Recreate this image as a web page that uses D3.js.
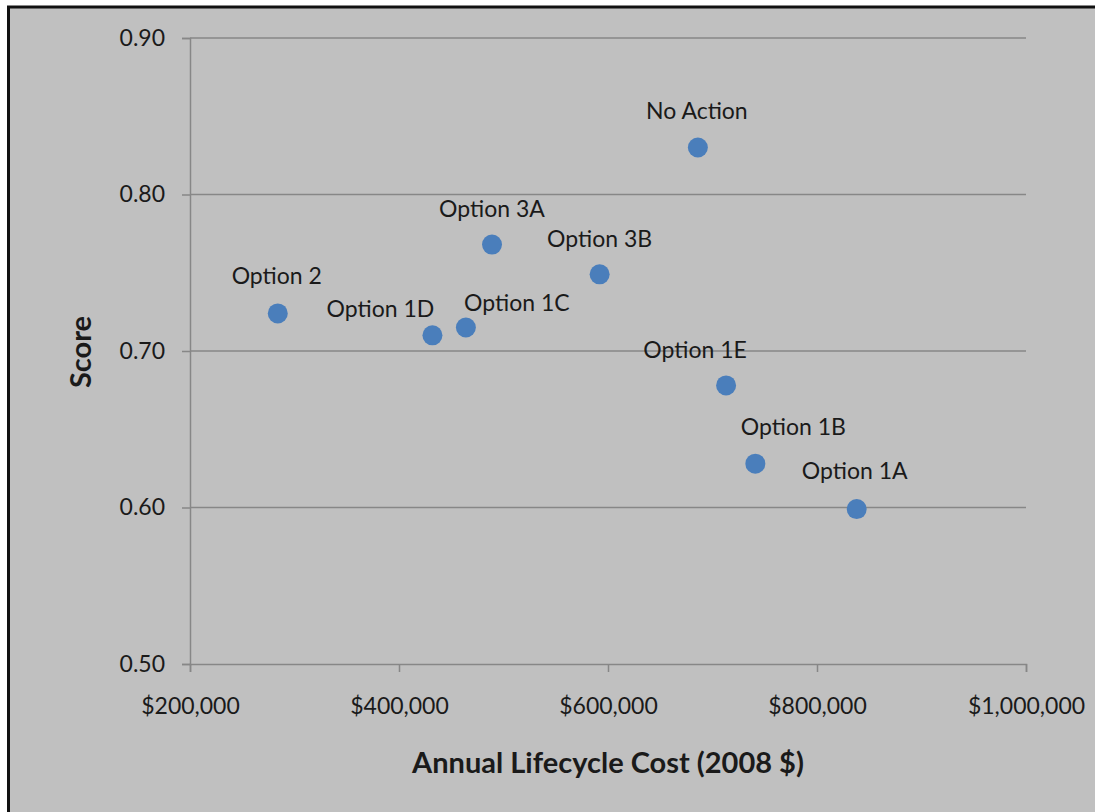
<!DOCTYPE html>
<html>
<head>
<meta charset="utf-8">
<script src="https://cdn.jsdelivr.net/npm/d3@7"></script>
<style>
  html, body { margin: 0; padding: 0; background: #fff; }
  svg { display: block; }
  text { font-family: Lato, "Open Sans", sans-serif; fill: #1a1a1a; }
</style>
</head>
<body>
<div id="chart"></div>
<script>
// dados
const options = ['Option 2', 'Option 1D', 'Option 1C', 'Option 3A', 'Option 3B',
                 'No Action', 'Option 1E', 'Option 1B', 'Option 1A'];
const costs = [284000, 432000, 464000, 489000, 592000, 686000, 713000, 741000, 838000];
const scores = [0.724, 0.710, 0.715, 0.768, 0.749, 0.830, 0.678, 0.628, 0.599];
const xTicks = [200000, 400000, 600000, 800000, 1000000];
const yTicks = [0.50, 0.60, 0.70, 0.80, 0.90];

// deslocamento da linha de base do rótulo relativo ao ponto (px)
const labelOffsets = [[-1, -29], [-52, -18], [51, -17], [0, -28], [0, -27],
                      [-1, -29], [-31, -27], [38, -29], [-2, -30]];

const width = 1095, height = 812;
const margin = { top: 38, right: 68, bottom: 148, left: 190 };

const svg = d3.select('#chart').append('svg')
  .attr('width', width)
  .attr('height', height);

// fundo cinza com borda preta à esquerda e em cima
svg.append('rect')
  .attr('x', 8.5).attr('y', 7)
  .attr('width', width + 20).attr('height', height + 20)
  .attr('fill', '#c0c0c0')
  .attr('stroke', '#111')
  .attr('stroke-width', 3);

const x = d3.scaleLinear()
  .domain([200000, 1000000])
  .range([margin.left, width - margin.right - 1]);

const y = d3.scaleLinear()
  .domain([0.5, 0.9])
  .range([height - margin.bottom, margin.top]);

// linhas de grade
svg.append('g')
  .selectAll('line')
  .data(yTicks.filter(d => d > 0.5))
  .join('line')
  .attr('x1', x(200000)).attr('x2', x(1000000))
  .attr('y1', d => y(d)).attr('y2', d => y(d))
  .attr('stroke', '#878787')
  .attr('stroke-width', 1.5);

// eixo x
const xAxis = svg.append('g')
  .attr('transform', `translate(0,${y(0.5)})`)
  .call(d3.axisBottom(x)
    .tickValues(xTicks)
    .tickSize(8)
    .tickPadding(26)
    .tickFormat(d => '$' + d3.format(',')(d)));

// eixo y
const yAxis = svg.append('g')
  .attr('transform', `translate(${x(200000)},0)`)
  .call(d3.axisLeft(y)
    .tickValues(yTicks)
    .tickSize(8)
    .tickPadding(17)
    .tickFormat(d3.format('.2f')));

[xAxis, yAxis].forEach(ax => {
  ax.select('.domain').attr('stroke', '#878787').attr('stroke-width', 1.5);
  ax.selectAll('.tick line').attr('stroke', '#878787').attr('stroke-width', 1.5);
  ax.selectAll('.tick text')
    .attr('font-size', 23)
    .attr('font-family', 'Lato, "Open Sans", sans-serif')
    .attr('fill', '#1a1a1a');
});

// pontos
const pts = options.map((name, i) => ({ name, cost: costs[i], score: scores[i], off: labelOffsets[i] }));

svg.append('g')
  .selectAll('circle')
  .data(pts)
  .join('circle')
  .attr('cx', d => x(d.cost))
  .attr('cy', d => y(d.score))
  .attr('r', 10)
  .attr('fill', '#4a7ebb');

svg.append('g')
  .selectAll('text')
  .data(pts)
  .join('text')
  .attr('x', d => x(d.cost) + d.off[0])
  .attr('y', d => y(d.score) + d.off[1])
  .attr('text-anchor', 'middle')
  .attr('font-size', 23)
  .text(d => d.name);

// títulos dos eixos
svg.append('text')
  .attr('x', 608)
  .attr('y', 773)
  .attr('text-anchor', 'middle')
  .attr('font-size', 29)
  .attr('font-weight', 'bold')
  .text('Annual Lifecycle Cost (2008 $)');

svg.append('text')
  .attr('transform', `translate(91,352) rotate(-90)`)
  .attr('text-anchor', 'middle')
  .attr('font-size', 29)
  .attr('font-weight', 'bold')
  .text('Score');
</script>
</body>
</html>
